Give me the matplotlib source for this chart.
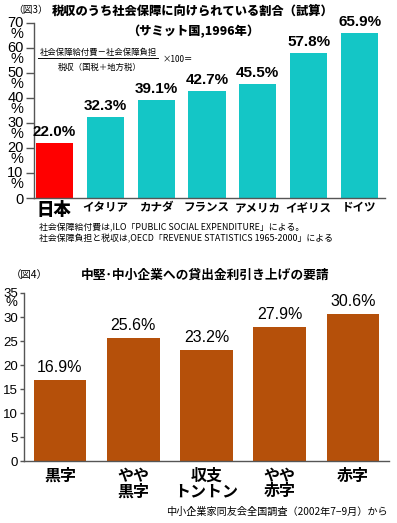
import matplotlib
matplotlib.use("Agg")
import matplotlib.pyplot as plt
from matplotlib.lines import Line2D
import matplotlib.transforms as mtransforms

W, H = 397, 523
JP = ['Noto Sans CJK JP', 'DejaVu Sans']
NUM = ['Liberation Sans Narrow', 'Liberation Sans', 'DejaVu Sans']

# ---- data: chart 3
countries = ['日本', 'イタリア', 'カナダ', 'フランス', 'アメリカ', 'イギリス', 'ドイツ']
share = [22.0, 32.3, 39.1, 42.7, 45.5, 57.8, 65.9]
yticks1 = [0, 10, 20, 30, 40, 50, 60, 70]

# ---- data: chart 4
categories = ['黒字', 'やや\n黒字', '収支\nトントン', 'やや\n赤字', '赤字']
requests = [16.9, 25.6, 23.2, 27.9, 30.6]
yticks2 = [0, 5, 10, 15, 20, 25, 30, 35]

RED = '#ff0000'
TEAL = '#14c6c6'
BROWN = '#b5500a'
AXC = '#555555'

fig = plt.figure(figsize=(W / 100, H / 100), dpi=100)
fig.patch.set_facecolor('white')

def fx(x):
    return x / W

def fy(y):
    return 1 - y / H

# ================= chart 3 =================
ax1 = fig.add_axes([fx(34), fy(198), (385 - 34) / W, 175 / H])
colors1 = [RED] + [TEAL] * (len(share) - 1)
xs1 = list(range(len(share)))
bars1 = ax1.bar(xs1, share, width=0.73, color=colors1, edgecolor='none')
ax1.set_xlim(-0.40, 6.5)
ax1.set_ylim(0, 70)
for s in ['top', 'right']:
    ax1.spines[s].set_visible(False)
for s in ['left', 'bottom']:
    ax1.spines[s].set_color(AXC)
    ax1.spines[s].set_linewidth(1.0)
ax1.set_yticks(yticks1)
ax1.set_yticklabels([('%d\n%%' % v) if v else '0' for v in yticks1],
                    fontfamily=NUM, fontsize=10.5, linespacing=0.72)
ax1.tick_params(axis='y', direction='out', length=6, width=1.0, color=AXC, pad=1.5)
for lab, v in zip(ax1.get_yticklabels(), yticks1):
    if v:
        lab.set_verticalalignment('center')
        lab.set_transform(lab.get_transform() + mtransforms.ScaledTranslation(0, -4.2 / 72, fig.dpi_scale_trans))
ax1.set_xticks(xs1)
ax1.set_xticklabels(countries, fontfamily=JP)
ax1.tick_params(axis='x', length=0, pad=2)
for i, lab in enumerate(ax1.get_xticklabels()):
    if i == 0:
        lab.set_fontsize(12.5)
        lab.set_fontweight('heavy')
    else:
        lab.set_fontsize(8.3)
        lab.set_fontweight('bold')
for b, v in zip(bars1, share):
    ax1.annotate('%.1f%%' % v, (b.get_x() + b.get_width() / 2, v),
                 xytext=(0, 3), textcoords='offset points', ha='center', va='bottom',
                 fontfamily=NUM, fontsize=11, fontweight='bold')

# titles chart 3
fig.text(fx(13), fy(10), '（図3）', fontfamily=JP, fontsize=7.0, va='center', ha='left')
fig.text(fx(193), fy(10), '税収のうち社会保障に向けられている割合（試算）', fontfamily=JP,
         fontsize=8.8, fontweight='heavy', va='center', ha='center')
fig.text(fx(193), fy(31), '（サミット国,1996年）', fontfamily=JP,
         fontsize=8.8, fontweight='heavy', va='center', ha='center')
# formula
fig.text(fx(98), fy(52), '社会保障給付費－社会保障負担', fontfamily=JP, fontsize=6.0,
         va='center', ha='center')
fig.add_artist(Line2D([fx(38), fx(158)], [fy(57.5), fy(57.5)], color='black', lw=0.7))
fig.text(fx(100), fy(67), '税収（国税＋地方税）', fontfamily=JP, fontsize=6.0,
         va='center', ha='center')
fig.text(fx(163), fy(60), '×100＝', fontfamily=JP, fontsize=6.0, va='center', ha='left')
# notes
fig.text(fx(39), fy(228), '社会保障給付費は,ILO「PUBLIC SOCIAL EXPENDITURE」による。',
         fontfamily=JP, fontsize=6.4, va='center', ha='left')
fig.text(fx(39), fy(239), '社会保障負担と税収は,OECD「REVENUE STATISTICS 1965-2000」による',
         fontfamily=JP, fontsize=6.4, va='center', ha='left')

# ================= chart 4 =================
ax2 = fig.add_axes([fx(24), fy(461), (389 - 24) / W, (461 - 293) / H])
xs2 = list(range(len(requests)))
bars2 = ax2.bar(xs2, requests, width=0.72, color=BROWN, edgecolor='none')
ax2.set_xlim(-0.49, 4.49)
ax2.set_ylim(0, 35)
for s in ['top', 'right']:
    ax2.spines[s].set_visible(False)
for s in ['left', 'bottom']:
    ax2.spines[s].set_color(AXC)
    ax2.spines[s].set_linewidth(1.0)
ax2.set_yticks(yticks2)
ax2.set_yticklabels([('%d\n%%' % v) if v == 35 else str(v) for v in yticks2],
                    fontfamily=NUM, fontsize=9.5, linespacing=0.72)
ax2.tick_params(axis='y', direction='out', length=3, width=1.0, color=AXC, pad=1.5)
for lab, v in zip(ax2.get_yticklabels(), yticks2):
    if v == 35:
        lab.set_transform(lab.get_transform() + mtransforms.ScaledTranslation(0, -3.8 / 72, fig.dpi_scale_trans))
ax2.set_xticks(xs2)
ax2.set_xticklabels(categories, fontfamily=JP, fontsize=11.5, fontweight='bold',
                    linespacing=0.95, va='top')
ax2.tick_params(axis='x', length=0, pad=5)
for b, v in zip(bars2, requests):
    ax2.annotate('%.1f%%' % v, (b.get_x() + b.get_width() / 2, v),
                 xytext=(0, 3.5), textcoords='offset points', ha='center', va='bottom',
                 fontfamily=NUM, fontsize=11.5)

fig.text(fx(11), fy(275), '（図4）', fontfamily=JP, fontsize=7.5, va='center', ha='left')
fig.text(fx(205), fy(275), '中堅･中小企業への貸出金利引き上げの要請', fontfamily=JP,
         fontsize=9.2, fontweight='bold', va='center', ha='center')
fig.text(fx(388), fy(512), '中小企業家同友会全国調査（2002年7−9月）から', fontfamily=JP,
         fontsize=7.3, va='center', ha='right')

fig.savefig('out.png', dpi=100, facecolor='white')
